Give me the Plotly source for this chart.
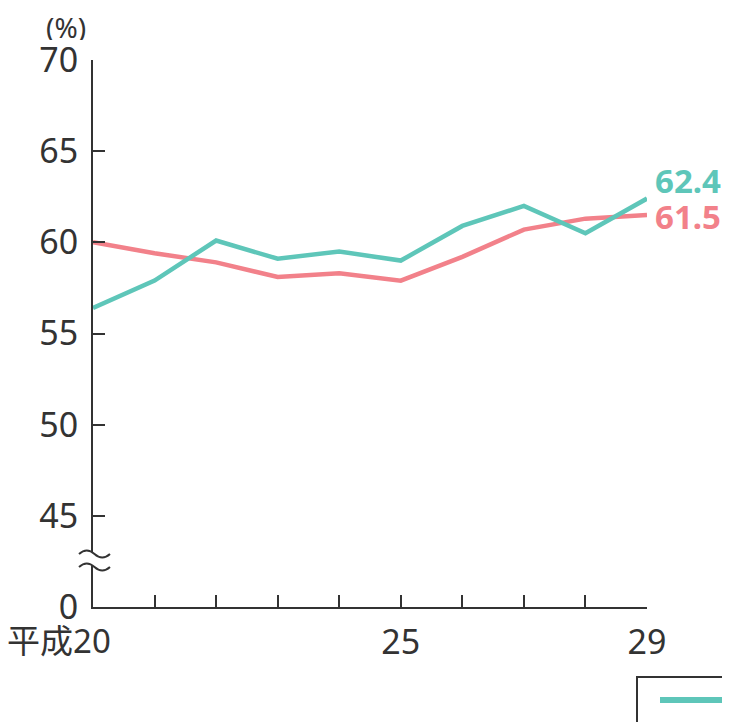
import plotly.graph_objects as go

years = [20, 21, 22, 23, 24, 25, 26, 27, 28, 29]
teal_values = [56.4, 57.9, 60.1, 59.1, 59.5, 59.0, 60.9, 62.0, 60.5, 62.4]
red_values = [60.0, 59.4, 58.9, 58.1, 58.3, 57.9, 59.2, 60.7, 61.3, 61.5]
y_tick_vals = [40, 45, 50, 55, 60, 65, 70]
y_tick_text = ["0", "45", "50", "55", "60", "65", "70"]
x_tick_text = ["平成20", "", "", "", "", "25", "", "", "", "29"]

TEAL = "#5ec6b9"
RED = "#f2818a"
AX = "#333333"
FONT = "Noto Sans, Noto Sans CJK JP"

# plot area in screen pixels (for converting decoration positions)
PX0, PX1, PY0, PY1 = 93, 647, 60, 607
def px(x):
    return (x - PX0) / (PX1 - PX0)
def py(y):
    return (PY1 - y) / (PY1 - PY0)

fig = go.Figure()
fig.add_trace(go.Scatter(x=years, y=red_values, mode="lines",
                         line=dict(color=RED, width=4.5), hoverinfo="skip"))
fig.add_trace(go.Scatter(x=years, y=teal_values, mode="lines",
                         line=dict(color=TEAL, width=4.5), hoverinfo="skip"))

# first label (with era prefix) is drawn as an annotation so that "20" sits under its tick
axis_ticktext = [""] + x_tick_text[1:]

fig.update_layout(
    width=730, height=722,
    margin=dict(l=85, r=91, t=52, b=123),
    plot_bgcolor="white", paper_bgcolor="white",
    showlegend=False,
    font=dict(family=FONT, size=34, color=AX),
    xaxis=dict(range=[20, 29], tickvals=years, ticktext=axis_ticktext,
               ticks="inside", ticklen=12, tickwidth=2, tickcolor=AX,
               showline=True, linewidth=2, linecolor=AX, showgrid=False,
               zeroline=False, ticklabelstandoff=4, automargin=False),
    yaxis=dict(range=[40, 70], tickvals=y_tick_vals, ticktext=y_tick_text,
               ticks="inside", ticklen=12, tickwidth=2, tickcolor=AX,
               showline=True, linewidth=2, linecolor=AX, showgrid=False,
               zeroline=False, ticklabelstandoff=6, automargin=False),
)

# axis break symbol (pixel design converted to paper coords)
def wave_path(y0):
    x0, x1 = 79, 110
    q = (x1 - x0) / 4
    return (f"M {px(x0)},{py(y0)} Q {px(x0 + q)},{py(y0 - 7)} {px(x0 + 2*q)},{py(y0)} "
            f"T {px(x1)},{py(y0)}")
yt, yb = 554, 567
q = (110 - 79) / 4
fill_path = (f"M {px(79)},{py(yt)} Q {px(79 + q)},{py(yt - 7)} {px(79 + 2*q)},{py(yt)} "
             f"T {px(110)},{py(yt)} L {px(110)},{py(yb)} "
             f"Q {px(110 - q)},{py(yb + 7)} {px(110 - 2*q)},{py(yb)} T {px(79)},{py(yb)} Z")
fig.add_shape(type="path", xref="paper", yref="paper", path=fill_path,
              fillcolor="white", line=dict(width=0), layer="above")
fig.add_shape(type="path", xref="paper", yref="paper", path=wave_path(yt),
              line=dict(color=AX, width=2), layer="above")
fig.add_shape(type="path", xref="paper", yref="paper", path=wave_path(yb),
              line=dict(color=AX, width=2), layer="above")

# annotations
fig.add_annotation(x=years[0], y=40, xref="x", yref="y", text=x_tick_text[0],
                   showarrow=False, xanchor="right", yanchor="top", xshift=20, yshift=-12,
                   height=38, font=dict(size=33, color=AX))
fig.add_annotation(x=px(88), y=py(27), xref="paper", yref="paper", text="(%)",
                   showarrow=False, xanchor="right", yanchor="middle", height=26,
                   font=dict(size=28, color=AX))
fig.add_annotation(x=29, y=teal_values[-1], text=f"{teal_values[-1]}", showarrow=False,
                   xanchor="left", yanchor="middle", xshift=6, yshift=19, height=30,
                   font=dict(size=33, color=TEAL, weight="bold"))
fig.add_annotation(x=29, y=red_values[-1], text=f"{red_values[-1]}", showarrow=False,
                   xanchor="left", yanchor="middle", xshift=6, yshift=-1, height=30,
                   font=dict(size=33, color=RED, weight="bold"))

# partially visible legend box at bottom right
fig.add_shape(type="rect", xref="paper", yref="paper",
              x0=px(637), x1=1.4, y0=py(677), y1=-0.4,
              line=dict(color=AX, width=2), fillcolor="white")
fig.add_shape(type="line", xref="paper", yref="paper",
              x0=px(660), x1=px(722), y0=py(700), y1=py(700),
              line=dict(color=TEAL, width=6))

fig.write_html("out.html")
